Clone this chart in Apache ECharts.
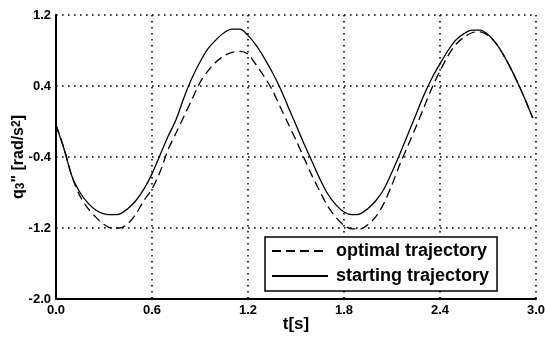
<!DOCTYPE html>
<html>
<head>
<meta charset="utf-8">
<script src="https://cdn.jsdelivr.net/npm/echarts@6/dist/echarts.min.js"></script>
<style>
  html, body { margin: 0; padding: 0; background: #fff; }
  #chart { width: 545px; height: 337px; }
</style>
</head>
<body>
<div id="chart"></div>
<script>
// time samples [s]
const timeS = [
  0.00, 0.05, 0.10, 0.15, 0.20, 0.25, 0.30, 0.35, 0.40, 0.45,
  0.50, 0.55, 0.60, 0.65, 0.70, 0.75, 0.80, 0.85, 0.90, 0.95,
  1.00, 1.05, 1.10, 1.15, 1.20, 1.25, 1.30, 1.35, 1.40, 1.45,
  1.50, 1.55, 1.60, 1.65, 1.70, 1.75, 1.80, 1.85, 1.90, 1.95,
  2.00, 2.05, 2.10, 2.15, 2.20, 2.25, 2.30, 2.35, 2.40, 2.45,
  2.50, 2.55, 2.60, 2.65, 2.70, 2.75, 2.80, 2.85, 2.90, 2.95, 2.98
];

// joint 3 acceleration, optimal trajectory [rad/s^2]
const optimalAcc = [
  -0.04, -0.30, -0.62, -0.84, -0.98, -1.08, -1.16, -1.20, -1.20, -1.15,
  -1.04, -0.89, -0.76, -0.57, -0.32, -0.13, 0.06, 0.25, 0.44, 0.57,
  0.67, 0.74, 0.78, 0.79, 0.76, 0.64, 0.51, 0.36, 0.17, -0.02,
  -0.21, -0.41, -0.61, -0.79, -0.96, -1.08, -1.17, -1.21, -1.21, -1.16,
  -1.07, -0.92, -0.71, -0.48, -0.27, -0.06, 0.16, 0.38, 0.57, 0.74,
  0.87, 0.95, 1.00, 1.01, 0.97, 0.88, 0.74, 0.57, 0.38, 0.17, 0.04
];

// joint 3 acceleration, starting trajectory [rad/s^2]
const startingAcc = [
  -0.04, -0.31, -0.62, -0.80, -0.92, -1.00, -1.04, -1.05, -1.04, -0.98,
  -0.89, -0.76, -0.59, -0.38, -0.17, 0.02, 0.27, 0.49, 0.67, 0.82,
  0.92, 1.00, 1.04, 1.04, 0.97, 0.86, 0.72, 0.56, 0.38, 0.17,
  -0.04, -0.25, -0.45, -0.65, -0.82, -0.94, -1.02, -1.05, -1.04, -0.98,
  -0.89, -0.76, -0.57, -0.36, -0.14, 0.08, 0.30, 0.49, 0.65, 0.80,
  0.92, 0.99, 1.03, 1.03, 0.98, 0.88, 0.74, 0.57, 0.38, 0.17, 0.04
];

const yTicks = [-2.0, -1.2, -0.4, 0.4, 1.2];
const xTicks = [0.0, 0.6, 1.2, 1.8, 2.4, 3.0];

const seriesNames = ['optimal trajectory', 'starting trajectory'];

const FONT = '"Liberation Sans", Arial, sans-serif';

function pairs(ys) {
  return timeS.map((t, i) => [t, ys[i]]);
}

const chart = echarts.init(document.getElementById('chart'), null, { renderer: 'canvas' });

const gridDots = { color: '#000', width: 1.6, type: [1.6, 4.4] };

chart.setOption({
  backgroundColor: '#fff',
  animation: false,
  grid: { left: 56, right: 9, top: 15, bottom: 38, containLabel: false, outerBoundsMode: 'none' },
  legend: {
    data: seriesNames,
    orient: 'vertical',
    left: 265,
    top: 237,
    itemWidth: 56,
    itemHeight: 15,
    itemGap: 7,
    padding: [5, 8, 6, 6],
    backgroundColor: '#fff',
    borderColor: '#000',
    borderWidth: 1.5,
    borderRadius: 0,
    itemStyle: { color: 'rgba(0,0,0,0)', borderWidth: 0, opacity: 0 },
    textStyle: { color: '#000', fontFamily: FONT, fontWeight: 'bold', fontSize: 18, padding: [0, 0, 0, 3] }
  },
  xAxis: {
    type: 'value',
    min: 0,
    max: 3,
    interval: 0.6,
    name: 't[s]',
    nameLocation: 'middle',
    nameGap: 17,
    nameMoveOverlap: false,
    nameTextStyle: { color: '#000', fontFamily: FONT, fontWeight: 'bold', fontSize: 17 },
    axisLine: { show: true, onZero: false, lineStyle: { color: '#000', width: 2 } },
    axisTick: { show: false, customValues: xTicks },
    axisLabel: {
      customValues: xTicks,
      color: '#000', fontFamily: FONT, fontWeight: 'bold', fontSize: 13, margin: 5,
      formatter: v => v.toFixed(1)
    },
    splitLine: { show: true, lineStyle: gridDots }
  },
  yAxis: {
    type: 'value',
    min: -2.0,
    max: 1.2,
    name: '{b|q}{sub|3}{b|" [rad/s}{sup|2}{b|]}',
    nameLocation: 'middle',
    nameGap: 29,
    nameMoveOverlap: false,
    nameTextStyle: {
      rich: {
        b: { color: '#000', fontFamily: FONT, fontWeight: 'bold', fontSize: 16 },
        sub: { color: '#000', fontFamily: FONT, fontWeight: 'bold', fontSize: 12, verticalAlign: 'bottom', padding: [4, 0, 0, 0] },
        sup: { color: '#000', fontFamily: FONT, fontWeight: 'bold', fontSize: 12, verticalAlign: 'top', padding: [0, 0, 4, 0] }
      }
    },
    axisLine: { show: true, onZero: false, lineStyle: { color: '#000', width: 2 } },
    axisTick: { show: false, customValues: yTicks },
    axisLabel: {
      customValues: yTicks,
      color: '#000', fontFamily: FONT, fontWeight: 'bold', fontSize: 13, margin: 5,
      formatter: v => v.toFixed(1)
    },
    splitLine: { show: true, lineStyle: gridDots }
  },
  series: [
    {
      name: seriesNames[0],
      type: 'line',
      data: pairs(optimalAcc),
      smooth: 0.3,
      showSymbol: false,
      symbol: 'none',
      lineStyle: { color: '#000', width: 1.3, type: [9, 5] },
      itemStyle: { color: '#000' },
      z: 3
    },
    {
      name: seriesNames[1],
      type: 'line',
      data: pairs(startingAcc),
      smooth: 0.3,
      showSymbol: false,
      symbol: 'none',
      lineStyle: { color: '#000', width: 1.3, type: 'solid' },
      itemStyle: { color: '#000' },
      z: 3
    }
  ]
});
</script>
</body>
</html>
